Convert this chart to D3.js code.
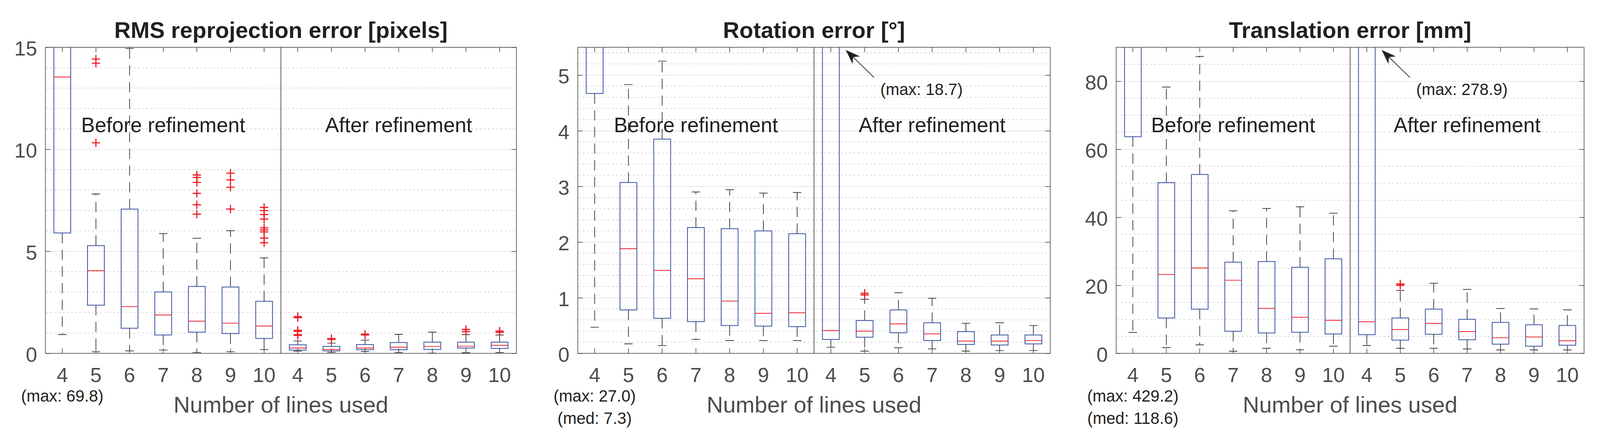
<!DOCTYPE html>
<html>
<head>
<meta charset="utf-8">
<script src="https://cdn.jsdelivr.net/npm/d3@7"></script>
<style>
  html, body { margin: 0; padding: 0; background: #fff; overflow: hidden; }
  svg { display: block; width: 100vw; height: 100vh; font-family: "Liberation Sans", Arial, Helvetica, sans-serif; }
</style>
</head>
<body>
<div id="chart"></div>
<script>
// number of lines used, repeated for "before" and "after" refinement
const lines = [4, 5, 6, 7, 8, 9, 10];
const groupLabels = ["Before refinement", "After refinement"];
const xLabel = "Number of lines used";

// RMS reprojection error [pixels] : 7 boxes before, 7 boxes after
const rmsTicks = [0, 5, 10, 15];
const rmsLow  = [0.92, 0.08, 0.12, 0.16, 0.04, 0.08, 0.19,  0.11, 0.05, 0.09, 0.04, 0.01, 0.03, 0.04];
const rmsQ1   = [5.90, 2.36, 1.23, 0.90, 1.04, 0.97, 0.73,  0.16, 0.12, 0.18, 0.18, 0.19, 0.26, 0.24];
const rmsMed  = [13.54, 4.05, 2.29, 1.88, 1.58, 1.48, 1.34, 0.26, 0.19, 0.26, 0.30, 0.34, 0.35, 0.39];
const rmsQ3   = [24.0, 5.28, 7.07, 3.01, 3.28, 3.25, 2.55,  0.42, 0.34, 0.43, 0.53, 0.55, 0.55, 0.55];
const rmsHigh = [69.8, 7.81, 14.94, 5.87, 5.64, 6.01, 4.68, 0.61, 0.50, 0.65, 0.93, 1.04, 0.92, 0.90];
const rmsOut  = [[], [14.42, 14.22, 10.32], [], [], [8.74, 8.62, 8.38, 7.84, 7.28, 6.82],
                 [8.83, 8.50, 8.14, 7.07], [7.15, 7.0, 6.8, 6.58, 6.15, 6.05, 5.95, 5.65, 5.42],
                 [1.80, 1.75, 1.13, 1.08, 0.92, 0.88], [0.72, 0.68], [0.94, 0.90], [], [],
                 [1.17, 1.07], [1.09, 1.03]];
const rmsNotes = ["(max: 69.8)"];

// Rotation error [deg]
const rotTicks = [0, 1, 2, 3, 4, 5];
const rotLow  = [0.47, 0.17, 0.14, 0.25, 0.23, 0.23, 0.23,  0.11, 0.04, 0.10, 0.08, 0.04, 0.05, 0.05];
const rotQ1   = [4.67, 0.78, 0.63, 0.57, 0.50, 0.49, 0.48,  0.25, 0.29, 0.37, 0.23, 0.16, 0.15, 0.17];
const rotMed  = [7.3, 1.88, 1.49, 1.34, 0.94, 0.72, 0.73,   0.41, 0.40, 0.53, 0.35, 0.22, 0.22, 0.23];
const rotQ3   = [12.0, 3.07, 3.85, 2.26, 2.24, 2.20, 2.15,  8.0, 0.59, 0.78, 0.55, 0.39, 0.33, 0.33];
const rotHigh = [27.0, 4.83, 5.25, 2.90, 2.94, 2.88, 2.89,  18.7, 0.97, 1.09, 0.99, 0.54, 0.55, 0.50];
const rotOut  = [[], [], [], [], [], [], [], [], [1.08, 1.05], [], [], [], [], []];
const rotNotes = ["(max: 27.0)", "(med: 7.3)"];
const rotArrowNote = "(max: 18.7)";

// Translation error [mm]
const trTicks = [0, 20, 40, 60, 80];
const trLow  = [6.15, 1.7, 2.5, 0.6, 1.5, 1.05, 2.1,     2.3, 1.5, 1.5, 1.3, 1.0, 1.0, 1.0];
const trQ1   = [63.7, 10.4, 13.0, 6.5, 6.0, 6.2, 5.7,    5.5, 3.9, 5.6, 4.0, 2.7, 2.1, 2.4];
const trMed  = [118.6, 23.2, 25.1, 21.5, 13.2, 10.6, 9.7, 9.3, 7.0, 8.8, 6.4, 4.6, 4.8, 3.7];
const trQ3   = [200, 50.2, 52.6, 26.8, 27.0, 25.3, 27.8,  120, 10.4, 13.0, 10.0, 9.1, 8.4, 8.2];
const trHigh = [429.2, 78.3, 87.3, 41.9, 42.6, 43.1, 41.2, 278.9, 18.5, 20.6, 18.8, 13.2, 13.05, 12.8];
const trOut  = [[], [], [], [], [], [], [], [], [20.4, 20.0], [], [], [], [], []];
const trNotes = ["(max: 429.2)", "(med: 118.6)"];
const trArrowNote = "(max: 278.9)";

const W = 4223, H = 1138;
const plotTop = 107, plotBottom = 914;
const BLUE = "#3953a4", RED = "#ed1c24", INK = "#231f20", AXIS = "#4d4d4d";

const panels = [
  { id: "rms", title: "RMS reprojection error [pixels]", left: 120, right: 1363, domain: [0, 15], minor: 1,
    ticks: rmsTicks, low: rmsLow, q1: rmsQ1, med: rmsMed, q3: rmsQ3, high: rmsHigh, out: rmsOut, notes: rmsNotes },
  { id: "rot", title: "Rotation error [°]", left: 1525, right: 2772, domain: [0, 5.5], minor: 0.2,
    ticks: rotTicks, low: rotLow, q1: rotQ1, med: rotMed, q3: rotQ3, high: rotHigh, out: rotOut, notes: rotNotes, arrow: rotArrowNote },
  { id: "tr", title: "Translation error [mm]", left: 2946, right: 4181, domain: [0, 90], minor: 5,
    ticks: trTicks, low: trLow, q1: trQ1, med: trMed, q3: trQ3, high: trHigh, out: trOut, notes: trNotes, arrow: trArrowNote }
];

// the drawing is laid out in a 4223x1138 user space and scaled to the window
const svg = d3.select("#chart").append("svg")
  .attr("viewBox", "0 0 " + W + " " + H)
  .attr("preserveAspectRatio", "xMidYMid meet")
  .style("background", "#fff");

const defs = svg.append("defs");

panels.forEach(drawPanel);

function drawPanel(p) {
  const idx = d3.range(14);
  const x = d3.scaleBand().domain(idx).range([p.left, p.right]).padding(0);
  const y = d3.scaleLinear().domain(p.domain).range([plotBottom, plotTop]);
  const bw = x.bandwidth();
  const cx = i => x(i) + bw / 2;
  const width = p.right - p.left;
  const g = svg.append("g");

  defs.append("clipPath").attr("id", "clip-" + p.id)
    .append("rect")
    .attr("x", p.left).attr("y", plotTop)
    .attr("width", width).attr("height", plotBottom - plotTop);

  // minor grid (dotted)
  const minorVals = d3.range(p.domain[0], p.domain[1] + 1e-9, p.minor)
    .filter(v => !p.ticks.some(t => Math.abs(t - v) < 1e-6) && v > p.domain[0] && v < p.domain[1] - 1e-6);
  g.append("g").selectAll("line").data(minorVals).join("line")
    .attr("x1", p.left + 2).attr("x2", p.right - 2)
    .attr("y1", d => y(d)).attr("y2", d => y(d))
    .attr("stroke", "#c8c8c8").attr("stroke-width", 1.6)
    .attr("stroke-dasharray", "4.5,6.5");

  // major grid
  g.append("g")
    .attr("transform", "translate(" + p.left + ",0)")
    .call(d3.axisLeft(y).tickValues(p.ticks.filter(t => t > p.domain[0])).tickSize(-width).tickFormat(""))
    .call(s => s.select(".domain").remove())
    .call(s => s.selectAll(".tick line").attr("stroke", "#e0e0e0").attr("stroke-width", 1.6));

  // divider between before / after
  g.append("line")
    .attr("x1", x(7)).attr("x2", x(7))
    .attr("y1", plotTop).attr("y2", plotBottom)
    .attr("stroke", INK).attr("stroke-width", 1.5);

  // boxes
  const boxes = g.append("g").attr("clip-path", "url(#clip-" + p.id + ")");
  const b = boxes.selectAll("g.box").data(idx).join("g").attr("class", "box");

  b.append("line") // upper whisker
    .attr("x1", cx).attr("x2", cx)
    .attr("y1", i => y(p.q3[i])).attr("y2", i => y(p.high[i]))
    .attr("stroke", INK).attr("stroke-width", 1.7).attr("stroke-dasharray", "27,17");
  b.append("line") // lower whisker
    .attr("x1", cx).attr("x2", cx)
    .attr("y1", i => y(p.q1[i])).attr("y2", i => y(p.low[i]))
    .attr("stroke", INK).attr("stroke-width", 1.7).attr("stroke-dasharray", "27,17");
  ["high", "low"].forEach(k => {
    b.append("line")
      .attr("x1", i => cx(i) - bw / 8).attr("x2", i => cx(i) + bw / 8)
      .attr("y1", i => y(p[k][i])).attr("y2", i => y(p[k][i]))
      .attr("stroke", INK).attr("stroke-width", 1.7);
  });
  b.append("rect")
    .attr("x", i => cx(i) - bw / 4).attr("width", bw / 2)
    .attr("y", i => y(p.q3[i])).attr("height", i => y(p.q1[i]) - y(p.q3[i]))
    .attr("fill", "none").attr("stroke", BLUE).attr("stroke-width", 2.1);
  b.append("line")
    .attr("x1", i => cx(i) - bw / 4).attr("x2", i => cx(i) + bw / 4)
    .attr("y1", i => y(p.med[i])).attr("y2", i => y(p.med[i]))
    .attr("stroke", RED).attr("stroke-width", 2);
  b.selectAll("path.out").data(i => p.out[i].map(v => [i, v])).join("path")
    .attr("class", "out")
    .attr("transform", d => "translate(" + cx(d[0]) + "," + y(d[1]) + ")")
    .attr("d", "M-11,0H11M0,-11V11")
    .attr("stroke", RED).attr("stroke-width", 3).attr("fill", "none");

  // frame and ticks
  g.append("rect")
    .attr("x", p.left).attr("y", plotTop)
    .attr("width", width).attr("height", plotBottom - plotTop)
    .attr("fill", "none").attr("stroke", AXIS).attr("stroke-width", 1.7);

  const yAxis = g.append("g")
    .attr("transform", "translate(" + p.left + ",0)")
    .call(d3.axisLeft(y).tickValues(p.ticks).tickSize(-13).tickPadding(22).tickFormat(d3.format("d")));
  const yAxisR = g.append("g")
    .attr("transform", "translate(" + p.right + ",0)")
    .call(d3.axisRight(y).tickValues(p.ticks).tickSize(-13).tickFormat(""));
  const xAxis = g.append("g")
    .attr("transform", "translate(0," + plotBottom + ")")
    .call(d3.axisBottom(x).tickSize(-13).tickPadding(37).tickFormat(i => lines[i % 7]));
  const xAxisT = g.append("g")
    .attr("transform", "translate(0," + plotTop + ")")
    .call(d3.axisTop(x).tickSize(-13).tickFormat(""));

  [yAxis, yAxisR, xAxis, xAxisT].forEach(a => {
    a.select(".domain").remove();
    a.selectAll(".tick line").attr("stroke", AXIS).attr("stroke-width", 1.7);
    a.selectAll(".tick text")
      .attr("fill", AXIS)
      .style("font-size", "54px")
      .style("font-family", "'Liberation Sans', Arial, sans-serif");
  });
  yAxis.selectAll(".tick text").attr("dy", "0.4em");

  // title
  g.append("text")
    .attr("x", (p.left + p.right) / 2).attr("y", 82)
    .attr("text-anchor", "middle")
    .attr("fill", INK)
    .style("font-size", "60px").style("font-weight", "bold")
    .text(p.title);

  // group labels
  g.selectAll("text.grp").data(groupLabels).join("text")
    .attr("class", "grp")
    .attr("x", (d, k) => (x(k * 7) + x(k * 7 + 6) + bw) / 2)
    .attr("y", 331)
    .attr("text-anchor", "middle")
    .attr("fill", INK)
    .style("font-size", "54.5px")
    .text(d => d);

  // x label
  g.append("text")
    .attr("x", (p.left + p.right) / 2).attr("y", 1070)
    .attr("text-anchor", "middle")
    .attr("fill", AXIS)
    .style("font-size", "60px")
    .text(xLabel);

  // notes under the first box
  g.selectAll("text.note").data(p.notes).join("text")
    .attr("class", "note")
    .attr("x", cx(0))
    .attr("y", (d, k) => 1041 + k * 59)
    .attr("text-anchor", "middle")
    .attr("fill", INK)
    .style("font-size", "43px")
    .text(d => d);

  // arrow pointing at clipped "after" box
  if (p.arrow) {
    const tipX = cx(7) + bw / 4 + 17, tipY = plotTop + 7;
    const tailX = tipX + 74.6, tailY = tipY + 72.7;
    const ang = Math.atan2(tipY - tailY, tipX - tailX);
    const ux = Math.cos(ang), uy = Math.sin(ang);
    const head = [
      [tipX, tipY],
      [tipX - ux * 38.6 - uy * 13.9, tipY - uy * 38.6 + ux * 13.9],
      [tipX - ux * 27, tipY - uy * 27],
      [tipX - ux * 38.6 + uy * 13.9, tipY - uy * 38.6 - ux * 13.9]
    ];
    g.append("line")
      .attr("x1", tailX).attr("y1", tailY)
      .attr("x2", tipX - ux * 27).attr("y2", tipY - uy * 27)
      .attr("stroke", INK).attr("stroke-width", 1.8);
    g.append("path")
      .attr("d", d3.line()(head) + "Z")
      .attr("fill", INK);
    g.append("text")
      .attr("x", tailX + 16.7).attr("y", 233)
      .attr("fill", INK)
      .style("font-size", "43px")
      .text(p.arrow);
  }
}
</script>
</body>
</html>
